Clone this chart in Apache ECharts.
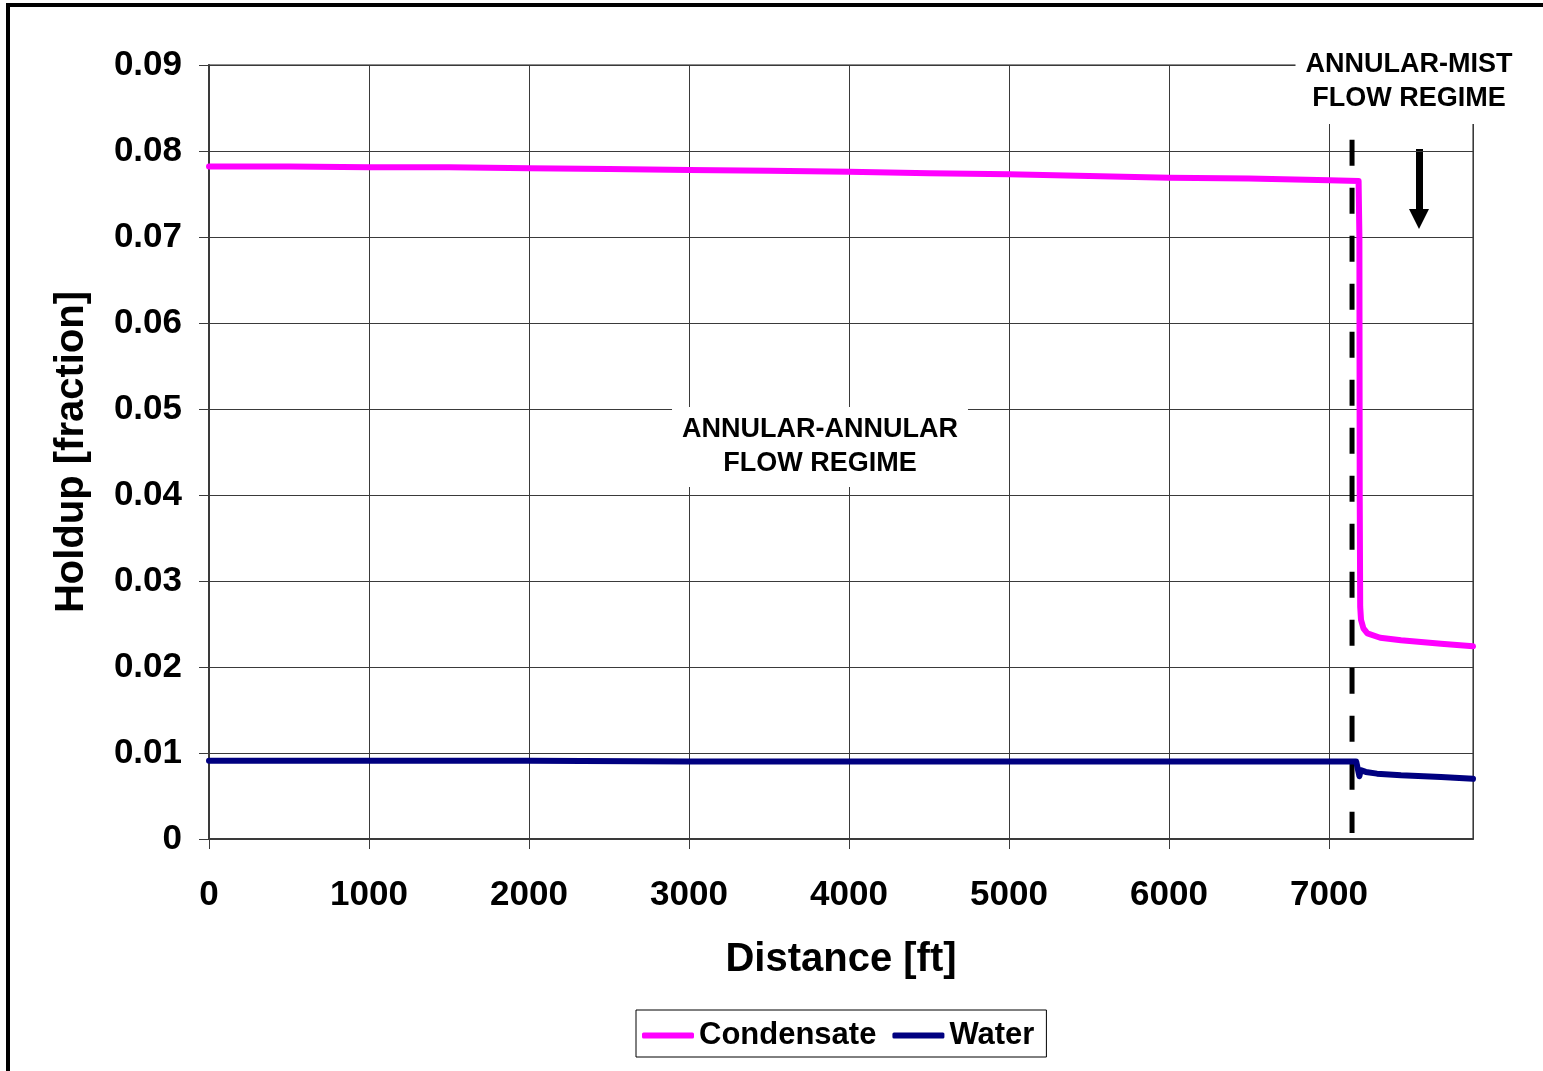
<!DOCTYPE html>
<html>
<head>
<meta charset="utf-8">
<title>Holdup vs Distance</title>
<script src="https://cdn.jsdelivr.net/npm/echarts@6/dist/echarts.min.js"></script>
<style>
  html, body { margin: 0; padding: 0; background: #fff; }
  #chart { width: 1543px; height: 1071px; }
</style>
</head>
<body>
<div id="chart"></div>
<script>
// Liquid holdup profiles along the pipeline, [distance ft, holdup fraction]
const condensate = [
  [0, 0.0782], [500, 0.0782], [1000, 0.0781], [1500, 0.0781], [2000, 0.0780],
  [2500, 0.0779], [3000, 0.0778], [3500, 0.0777], [4000, 0.0776], [4500, 0.0774],
  [5000, 0.0773], [5500, 0.0771], [6000, 0.0769], [6500, 0.0768], [7000, 0.0766],
  [7185, 0.0765], [7190, 0.0700], [7192, 0.0400], [7195, 0.0270], [7200, 0.0255],
  [7215, 0.0245], [7240, 0.0239], [7320, 0.0234], [7450, 0.0231], [7700, 0.0227],
  [7900, 0.0224]
];
const water = [
  [0, 0.0091], [1000, 0.0091], [2000, 0.0091], [3000, 0.0090], [4000, 0.0090],
  [5000, 0.0090], [6000, 0.0090], [7000, 0.0090], [7170, 0.0090], [7182, 0.0092],
  [7190, 0.0073], [7198, 0.0080], [7230, 0.0078], [7300, 0.0076], [7450, 0.0074],
  [7700, 0.0072], [7900, 0.0070]
];
// Boundary between the two flow regimes
const regimeBoundary = [[7144, 0.0813], [7144, 0.0007]];

const seriesNames = ['Condensate', 'Water'];
const regimeLabels = ['ANNULAR-ANNULAR\nFLOW REGIME', 'ANNULAR-MIST\nFLOW REGIME'];

const xMin = 0, xMax = 7900, xStep = 1000;
const yMin = 0, yMax = 0.09, yStep = 0.01;

const FONT = '"Liberation Sans", Arial, Helvetica, sans-serif';
const chart = echarts.init(document.getElementById('chart'), null, { renderer: 'canvas' });

const option = {
  backgroundColor: '#ffffff',
  animation: false,
  grid: {
    left: 209, right: 70, top: 65, bottom: 232,
    show: true, borderColor: '#8c8c8c', borderWidth: 2, backgroundColor: 'transparent'
  },
  xAxis: {
    type: 'value', min: xMin, max: xMax, interval: xStep,
    name: 'Distance [ft]', nameLocation: 'middle', nameGap: 101,
    nameTextStyle: { fontFamily: FONT, fontWeight: 'bold', fontSize: 40, color: '#000' },
    axisLine: { show: true, onZero: false, lineStyle: { color: '#3a3a3a', width: 2 } },
    axisTick: { show: true, length: 10, inside: false, lineStyle: { color: '#3a3a3a', width: 1 } },
    axisLabel: {
      margin: 39, showMaxLabel: false,
      fontFamily: FONT, fontWeight: 'bold', fontSize: 35, color: '#000',
      formatter: v => String(v)
    },
    splitLine: { show: true, lineStyle: { color: '#3a3a3a', width: 1 } }
  },
  yAxis: {
    type: 'value', min: yMin, max: yMax, interval: yStep,
    name: 'Holdup [fraction]', nameLocation: 'middle', nameGap: 117,
    nameTextStyle: { fontFamily: FONT, fontWeight: 'bold', fontSize: 40, color: '#000' },
    axisLine: { show: true, onZero: false, lineStyle: { color: '#3a3a3a', width: 2 } },
    axisTick: { show: true, length: 10, inside: false, lineStyle: { color: '#3a3a3a', width: 1 } },
    axisLabel: {
      margin: 27,
      fontFamily: FONT, fontWeight: 'bold', fontSize: 35, color: '#000',
      formatter: v => (v === 0 ? '0' : v.toFixed(2))
    },
    splitLine: { show: true, lineStyle: { color: '#3a3a3a', width: 1 } }
  },
  legend: {
    data: seriesNames,
    left: 636, top: 1010,
    orient: 'horizontal',
    padding: [10, 12, 6, 6],
    itemGap: 16, itemWidth: 52, itemHeight: 6,
    icon: 'roundRect',
    borderColor: '#000', borderWidth: 1, backgroundColor: '#fff',
    textStyle: { fontFamily: FONT, fontWeight: 'bold', fontSize: 31, color: '#000', padding: [0, 0, 0, 0] }
  },
  series: [
    {
      name: 'Regime boundary', type: 'line', data: regimeBoundary,
      showSymbol: false, silent: true, z: 3,
      lineStyle: { color: '#000', width: 5, type: [26, 22], cap: 'butt' }
    },
    {
      name: seriesNames[0], type: 'line', data: condensate,
      showSymbol: false, smooth: false, z: 4,
      color: '#ff00ff',
      lineStyle: { color: '#ff00ff', width: 6, join: 'round', cap: 'round' }
    },
    {
      name: seriesNames[1], type: 'line', data: water,
      showSymbol: false, smooth: false, z: 4,
      color: '#000080',
      lineStyle: { color: '#000080', width: 6, join: 'round', cap: 'round' }
    }
  ],
  graphic: [
    {
      // outer frame of the figure
      type: 'rect', z: 100, silent: true,
      shape: { x: 8, y: 5, width: 1600, height: 1200 },
      style: { fill: 'none', stroke: '#000', lineWidth: 4 }
    },
    {
      type: 'text', z: 50, silent: true,
      x: 820, y: 447,
      style: {
        text: regimeLabels[0], align: 'center', verticalAlign: 'middle',
        fontFamily: FONT, fontWeight: 'bold', fontSize: 27, lineHeight: 34, fill: '#000',
        backgroundColor: '#fff', padding: [4, 10, 8, 10]
      }
    },
    {
      type: 'text', z: 50, silent: true,
      x: 1409, y: 82,
      style: {
        text: regimeLabels[1], align: 'center', verticalAlign: 'middle',
        fontFamily: FONT, fontWeight: 'bold', fontSize: 27, lineHeight: 34, fill: '#000',
        backgroundColor: '#fff', padding: [8, 10, 8, 10]
      }
    },
    {
      // downward arrow pointing into the mist regime
      type: 'group', z: 50, silent: true,
      children: [
        { type: 'rect', shape: { x: 1416, y: 149, width: 7, height: 62 }, style: { fill: '#000' } },
        { type: 'polygon', shape: { points: [[1409, 209], [1429, 209], [1419, 229]] }, style: { fill: '#000' } }
      ]
    }
  ]
};

chart.setOption(option);
</script>
</body>
</html>
